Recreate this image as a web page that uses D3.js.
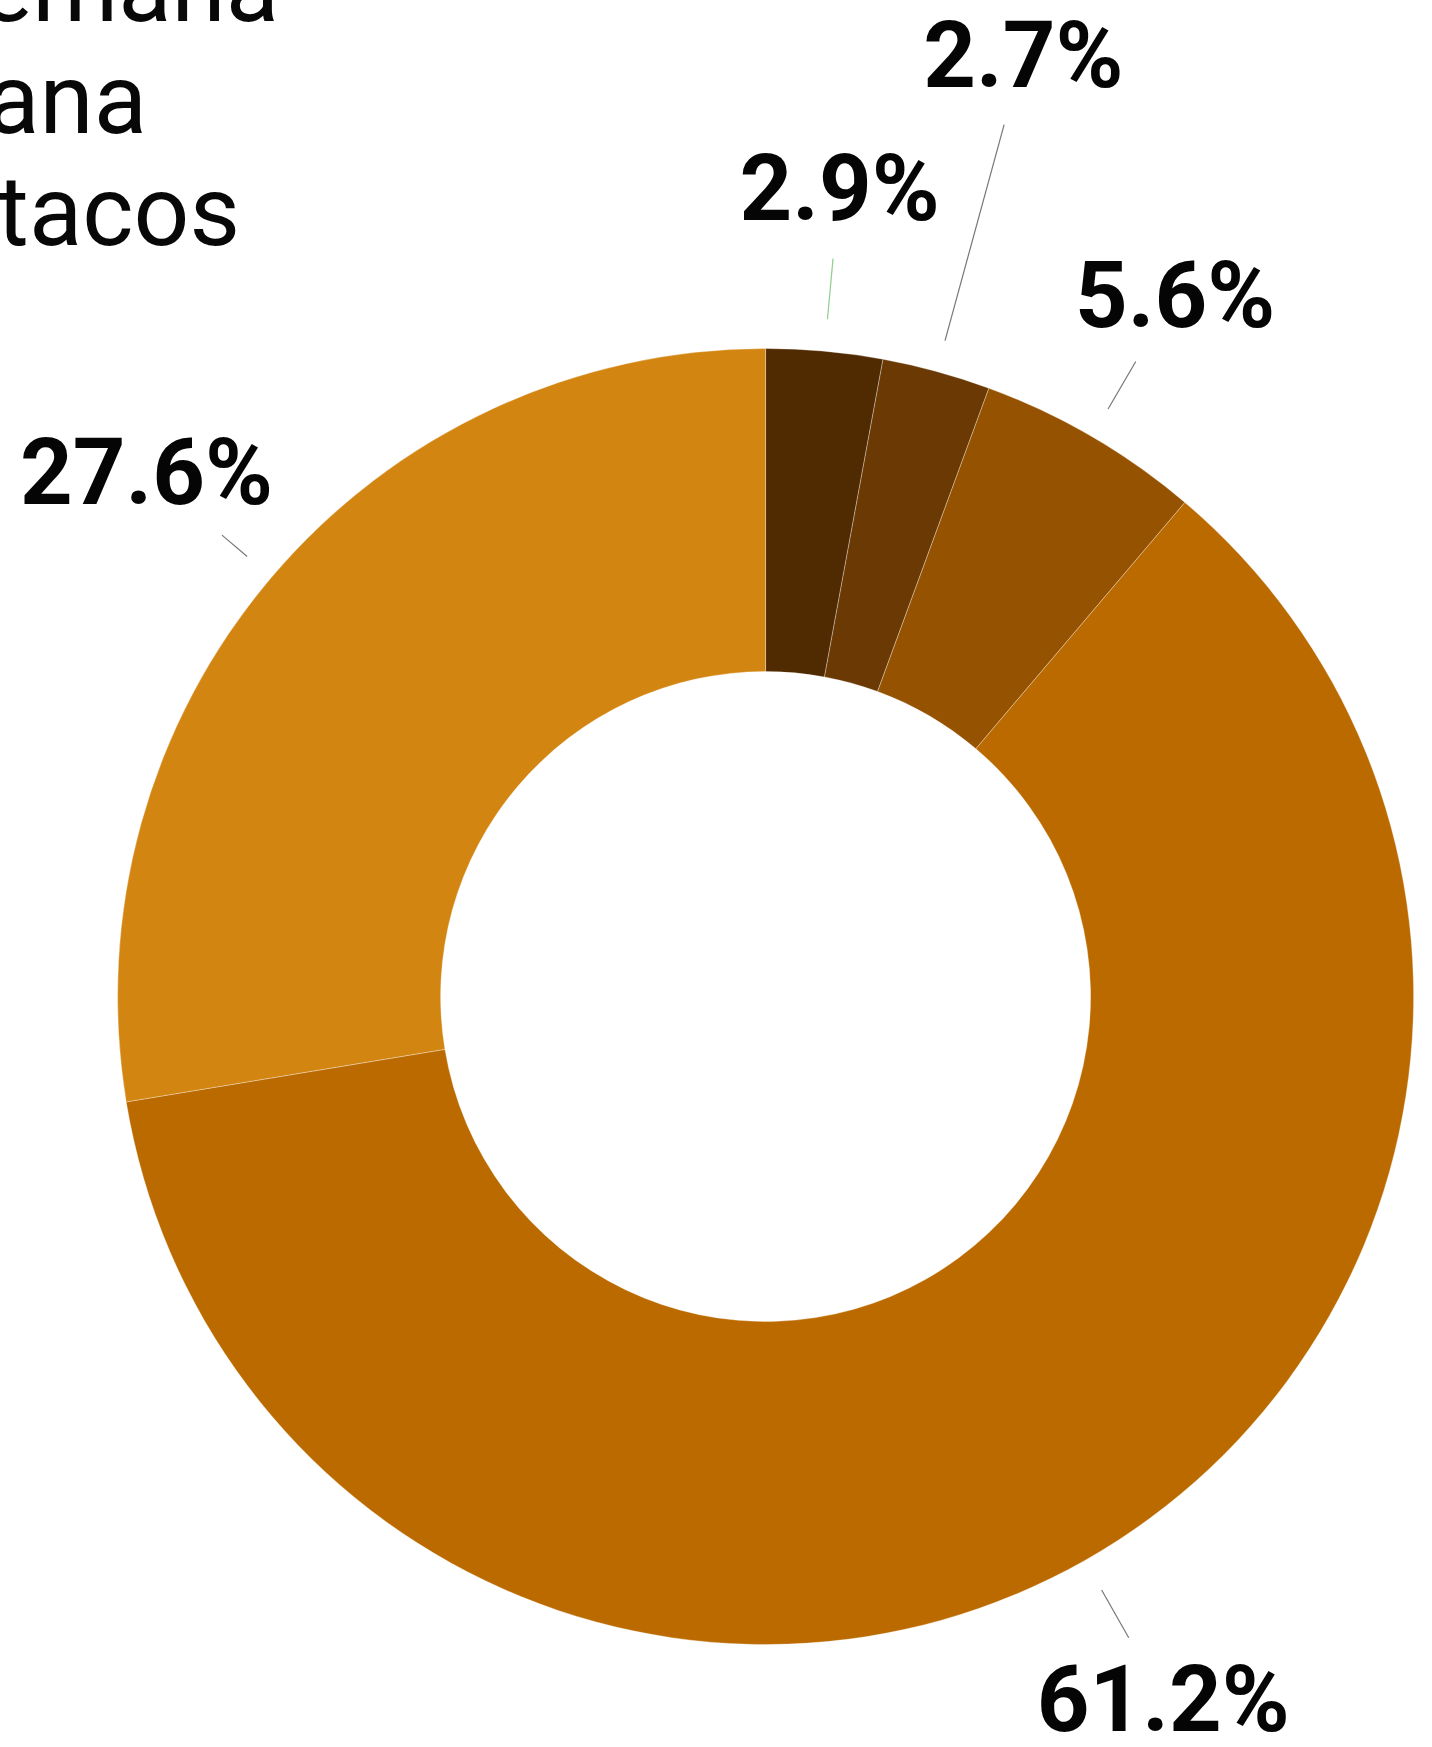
<!DOCTYPE html>
<html>
<head>
<meta charset="utf-8">
<script src="https://cdn.jsdelivr.net/npm/d3@7"></script>
<style>
  html, body { margin: 0; padding: 0; background: #fff; overflow: hidden; }
  svg { display: block; }
</style>
</head>
<body>
<svg id="chart" width="1432" height="1747"></svg>
<script>
// ---- data ----
const categories = ["Varias veces por semana", "Una vez a la semana", "Una vez al mes", "Rara vez", "Nunca como tacos"];
const values = [2.9, 2.7, 5.6, 61.2, 27.6];
const valueLabels = ["2.9%", "2.7%", "5.6%", "61.2%", "27.6%"];
const colors = ["#502a00", "#6b3a04", "#955200", "#bb6a00", "#d38511"];
const legendLines = ["Más de una vez a la semana", "Una vez a la semana", "Nunca como tacos"];

// ---- layout (not data) ----
const W = 1432, H = 1747;
const cx = 765.6, cy = 996.5;
const rOuter = 648, rInner = 325;
// per-label leader settings: line start/end radius, text radius
const lineR0 = [680, 680, 680, 682, 680];
const lineR1 = [741, 904, 735, 737, 713];
const textR = [813, 977, 813, 807, 812];
const lineColors = ["#8ccf8c", "#777", "#777", "#777", "#777"];

const svg = d3.select("#chart");
const g = svg.append("g").attr("transform", `translate(${cx},${cy})`);

const pie = d3.pie().sort(null).value(d => d.value);
const arcs = pie(values.map((v, i) => ({ value: v, i })));
const arc = d3.arc().innerRadius(rInner).outerRadius(rOuter);

g.selectAll("path.slice").data(arcs).join("path")
  .attr("class", "slice")
  .attr("d", arc)
  .attr("fill", d => colors[d.data.i])
  .attr("stroke", "rgba(255,255,255,0.4)")
  .attr("stroke-width", 0.8);

function polar(angleRad, r) {
  return [r * Math.sin(angleRad), -r * Math.cos(angleRad)];
}

const labelData = arcs.map(d => ({ i: d.data.i, a: (d.startAngle + d.endAngle) / 2 }));

g.selectAll("line.leader").data(labelData).join("line")
  .attr("class", "leader")
  .attr("x1", d => polar(d.a, lineR0[d.i])[0])
  .attr("y1", d => polar(d.a, lineR0[d.i])[1])
  .attr("x2", d => polar(d.a, lineR1[d.i])[0])
  .attr("y2", d => polar(d.a, lineR1[d.i])[1])
  .attr("stroke", d => lineColors[d.i])
  .attr("stroke-width", 1.2);

g.selectAll("text.val").data(labelData).join("text")
  .attr("class", "val")
  .attr("x", d => polar(d.a, textR[d.i])[0])
  .attr("y", d => polar(d.a, textR[d.i])[1])
  .attr("dy", "0.355em")
  .attr("text-anchor", "middle")
  .attr("font-family", "Roboto, 'Noto Sans', sans-serif")
  .attr("font-weight", 700)
  .attr("font-size", 92)
  .attr("fill", "#050505")
  .text(d => valueLabels[d.i]);

// ---- legend (partially outside the frame) ----
const legendRight = [279, 147, 240];
const legendBase = [21, 133, 245];
svg.append("g").selectAll("text").data(legendLines).join("text")
  .attr("x", (d, i) => legendRight[i])
  .attr("y", (d, i) => legendBase[i])
  .attr("text-anchor", "end")
  .attr("font-family", "Roboto, 'Noto Sans', sans-serif")
  .attr("font-size", 98)
  .attr("fill", "#080808")
  .text(d => d);
</script>
</body>
</html>
